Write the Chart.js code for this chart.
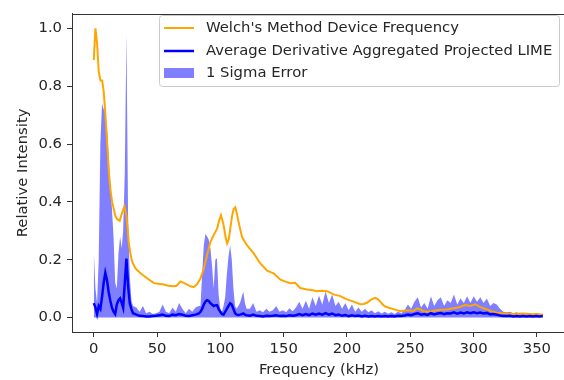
<!DOCTYPE html>
<html lang="en">
<head>
<meta charset="UTF-8">
<title>Welch vs LIME</title>
<script src="https://cdn.jsdelivr.net/npm/chart.js"></script>
<style>
  html, body { margin: 0; padding: 0; overflow: hidden; background: #fff; }
  #wrap { width: 572px; height: 380px; }
</style>
</head>
<body>
<div id="wrap"><canvas id="freqChart" width="572" height="380"></canvas></div>
<script>
// Welch's method spectrum (kHz, relative intensity)
var welchFreq = [0, 1.3, 2.6, 3.9, 5.3, 6.6, 7.9, 9.2, 10.6, 11.8, 13.2, 14.5, 15.8, 17.1, 18.5, 20.5, 22.4, 24.2, 25.8, 27.6,
  29, 30.3, 32.9, 36.9, 42.1, 47.4, 51, 55.2, 59, 63.1, 65.5, 68.4, 71, 73.7, 76.5, 78.9, 81.5, 84.2, 87, 89.5,
  92, 94.7, 97.4, 99, 100.5, 102.6, 104, 105.3, 106.6, 107.9, 109.2, 110.5, 111.8, 113, 114.4, 117.1, 121, 126.3, 131.6, 136.9,
  142, 147.4, 151, 155.2, 159, 163.1, 168.4, 172, 176.3, 180, 184.2, 189.4, 194.7, 200, 205.2, 210.5, 213, 215.8, 219, 222.3,
  224.5, 226.3, 228, 230.2, 233, 236.8, 242, 247.4, 252.6, 255.5, 257.9, 260.5, 263.1, 267, 271, 275, 278.9, 283, 286.8, 290,
  293.4, 297.3, 301.3, 305.2, 308, 310.5, 314, 318.4, 322, 326.3, 330, 334.2, 338, 342, 346, 350, 355];
var welchVals = [0.89, 1.0, 0.95, 0.85, 0.82, 0.82, 0.78, 0.70, 0.60, 0.51, 0.44, 0.40, 0.375, 0.35, 0.34, 0.335, 0.363, 0.384, 0.353, 0.26,
  0.22, 0.193, 0.17, 0.153, 0.136, 0.119, 0.117, 0.114, 0.11, 0.108, 0.11, 0.125, 0.12, 0.114, 0.108, 0.105, 0.115, 0.134, 0.17, 0.216,
  0.26, 0.285, 0.307, 0.335, 0.354, 0.318, 0.28, 0.256, 0.27, 0.31, 0.35, 0.375, 0.381, 0.36, 0.33, 0.278, 0.25, 0.222, 0.187, 0.162,
  0.153, 0.131, 0.125, 0.119, 0.12, 0.102, 0.097, 0.095, 0.091, 0.093, 0.091, 0.08, 0.074, 0.063, 0.055, 0.046, 0.047, 0.051, 0.062, 0.068,
  0.063, 0.055, 0.046, 0.038, 0.034, 0.029, 0.022, 0.025, 0.023, 0.032, 0.028, 0.022, 0.02, 0.022, 0.025, 0.027, 0.028, 0.031, 0.034, 0.038,
  0.043, 0.04, 0.046, 0.036, 0.032, 0.028, 0.022, 0.017, 0.015, 0.014, 0.012, 0.012, 0.014, 0.013, 0.011, 0.012, 0.01];

// Aggregated LIME: mean and mean + 1 sigma
var limeFreq = [0, 1.3, 2.6, 3.9, 5.2, 6.5, 7.8, 9.1, 10.4, 11.7, 13, 14.3, 15.6, 16.9, 18.2, 19.5, 20.8, 22.1, 23.2, 24.5,
  25.8, 27.1, 28.4, 29.7, 31,
  33.6, 36.2, 38.8, 41.4, 44, 46.6, 49.2, 51.8, 54.4, 57, 59.6, 62.2, 64.8, 67.4, 70, 72.6, 75.2, 77.8, 80.4, 83,
  84.3, 85.6, 86.9, 88.2, 89.5, 90.8, 92.1, 93.4, 94.7, 96, 97.3, 98.6, 99.9, 101.2, 102.5, 103.8, 105.1, 106.4, 107.7, 109,
  110.3, 111.6, 112.9, 114.2, 115.5, 116.8, 118.1, 119.4, 120.7,
  123.3, 125.9, 128.5, 131.1, 133.7, 136.3, 138.9, 141.5, 144.1, 146.7, 149.3, 151.9, 154.5, 157.1, 159.7, 162.3, 164.9, 167.5, 170.1, 172.7,
  175.3, 177.9, 180.5, 183.1, 185.7, 188.3, 190.9, 193.5, 196.1, 198.7, 201.3, 203.9, 206.5, 209.1, 211.7, 214.3, 216.9, 219.5, 222.1, 224.7,
  227.3, 229.9, 232.5, 235.1, 237.7, 240.3, 242.9, 245.5, 248.1, 250.7, 253.3, 255.9, 258.5, 261.1, 263.7, 266.3, 268.9, 271.5, 274.1, 276.7,
  279.3, 281.9, 284.5, 287.1, 289.7, 292.3, 294.9, 297.5, 300.1, 302.7, 305.3, 307.9, 310.5, 313.1, 315.7, 318.3, 320.9, 323.5, 326.1, 328.7,
  331.3, 333.9, 336.5, 339.1, 341.7, 344.3, 346.9, 349.5, 352.1, 354.7];
var limeMean = [0.05, 0.035, 0.012, 0.04, 0.03, 0.07, 0.12, 0.155, 0.13, 0.09, 0.06, 0.035, 0.02, 0.012, 0.045, 0.06, 0.066, 0.05, 0.034, 0.12,
  0.204, 0.11, 0.05, 0.03, 0.015,
  0.01, 0.006, 0.005, 0.004, 0.004, 0.005, 0.006, 0.008, 0.01, 0.006, 0.005, 0.01, 0.008, 0.012, 0.01, 0.006, 0.005, 0.008, 0.01, 0.014,
  0.02, 0.03, 0.045, 0.055, 0.06, 0.057, 0.05, 0.045, 0.04, 0.042, 0.043, 0.03, 0.02, 0.012, 0.01, 0.02, 0.03, 0.04, 0.049, 0.045,
  0.03, 0.015, 0.01, 0.009, 0.01, 0.012, 0.014, 0.01, 0.008,
  0.006, 0.01, 0.006, 0.005, 0.004, 0.006, 0.005, 0.006, 0.008, 0.005, 0.006, 0.005, 0.008, 0.006, 0.008, 0.012, 0.008, 0.012, 0.008, 0.014,
  0.01, 0.014, 0.01, 0.015, 0.01, 0.014, 0.008, 0.01, 0.006, 0.009, 0.005, 0.008, 0.005, 0.007, 0.004, 0.006, 0.004, 0.005, 0.004, 0.005,
  0.004, 0.005, 0.004, 0.005, 0.004, 0.006, 0.005, 0.007, 0.01, 0.008, 0.012, 0.015, 0.01, 0.012, 0.009, 0.015, 0.011, 0.014, 0.016, 0.012,
  0.015, 0.014, 0.018, 0.013, 0.017, 0.014, 0.018, 0.015, 0.018, 0.015, 0.017, 0.014, 0.016, 0.011, 0.012, 0.01, 0.007, 0.005, 0.005, 0.006,
  0.004, 0.005, 0.004, 0.005, 0.004, 0.005, 0.004, 0.005, 0.004, 0.005];
var limeUpper = [0.23, 0.1, 0.05, 0.2, 0.6, 0.74, 0.72, 0.71, 0.66, 0.56, 0.46, 0.38, 0.28, 0.12, 0.1, 0.22, 0.28, 0.24, 0.3, 0.5,
  0.98, 0.35, 0.15, 0.06, 0.04,
  0.035, 0.02, 0.04, 0.015, 0.02, 0.012, 0.015, 0.02, 0.045, 0.02, 0.015, 0.035, 0.02, 0.05, 0.03, 0.015, 0.03, 0.02, 0.035, 0.04,
  0.04, 0.15, 0.25, 0.29, 0.28, 0.27, 0.24, 0.18, 0.1, 0.2, 0.205, 0.08, 0.03, 0.02, 0.04, 0.07, 0.15, 0.21, 0.25, 0.2,
  0.1, 0.04, 0.03, 0.04, 0.05, 0.07, 0.09, 0.05, 0.03,
  0.03, 0.05, 0.02, 0.025, 0.018, 0.03, 0.02, 0.025, 0.04, 0.02, 0.025, 0.018, 0.032, 0.022, 0.035, 0.055, 0.03, 0.058, 0.03, 0.07,
  0.04, 0.075, 0.045, 0.09, 0.05, 0.08, 0.04, 0.055, 0.03, 0.05, 0.025, 0.045, 0.02, 0.035, 0.02, 0.03, 0.018, 0.025, 0.015, 0.022,
  0.014, 0.02, 0.013, 0.018, 0.012, 0.02, 0.015, 0.025, 0.045, 0.03, 0.055, 0.07, 0.035, 0.05, 0.03, 0.074, 0.04, 0.06, 0.07, 0.04,
  0.06, 0.05, 0.08, 0.045, 0.066, 0.05, 0.074, 0.05, 0.074, 0.055, 0.07, 0.05, 0.066, 0.04, 0.05, 0.045, 0.03, 0.02, 0.018, 0.02,
  0.015, 0.018, 0.014, 0.016, 0.012, 0.015, 0.012, 0.014, 0.012, 0.012];

var xTicks = [0, 50, 100, 150, 200, 250, 300, 350];
var yTicks = [0.0, 0.2, 0.4, 0.6, 0.8, 1.0];

var seriesNames = ["Welch's Method Device Frequency", 'Average Derivative Aggregated Projected LIME', '1 Sigma Error'];

function pairs(xs, ys) {
  return xs.map(function (x, i) { return { x: x, y: ys[i] }; });
}

Chart.defaults.font.family = '"DejaVu Sans", sans-serif';
Chart.defaults.font.size = 14.8;
Chart.defaults.color = '#262626';

// top/right spines like a matplotlib axes box
var framePlugin = {
  id: 'frame',
  afterDraw: function (chart) {
    var a = chart.chartArea, ctx = chart.ctx;
    ctx.save();
    ctx.strokeStyle = '#333';
    ctx.lineWidth = 1;
    ctx.strokeRect(Math.round(a.left) + 0.5, Math.round(a.top) + 0.5,
      Math.round(a.right - a.left), Math.round(a.bottom - a.top));
    ctx.restore();
  }
};

// legend box in the upper right corner
var legendPlugin = {
  id: 'boxLegend',
  afterDraw: function (chart) {
    var ctx = chart.ctx;
    var bx = 159.5, by = 15.5, bw = 400, bh = 71;
    ctx.save();
    ctx.beginPath();
    ctx.roundRect(bx, by, bw, bh, 3);
    ctx.fillStyle = 'rgba(255,255,255,0.8)';
    ctx.fill();
    ctx.strokeStyle = '#cccccc';
    ctx.lineWidth = 1;
    ctx.stroke();
    var rows = [28, 51, 73];
    chart.data.datasets.forEach(function (ds, i) {
      var y = rows[i];
      if (ds.fill) {
        ctx.fillStyle = ds.backgroundColor;
        ctx.fillRect(164, y - 5, 30, 10);
      } else {
        ctx.beginPath();
        ctx.moveTo(164, y);
        ctx.lineTo(194, y);
        ctx.strokeStyle = ds.borderColor;
        ctx.lineWidth = ds.borderWidth;
        ctx.stroke();
      }
      ctx.fillStyle = '#262626';
      ctx.font = '14.8px "DejaVu Sans"';
      ctx.textBaseline = 'middle';
      ctx.fillText(ds.label, 206, y);
    });
    ctx.restore();
  }
};

var ctx = document.getElementById('freqChart').getContext('2d');
var myChart = new Chart(ctx, {
  type: 'line',
  data: {
    datasets: [
      {
        label: seriesNames[0],
        data: pairs(welchFreq, welchVals),
        borderColor: '#ffa500',
        borderWidth: 2,
        pointRadius: 0,
        fill: false,
        order: 2
      },
      {
        label: seriesNames[1],
        data: pairs(limeFreq, limeMean),
        borderColor: '#0000ff',
        borderWidth: 2.5,
        pointRadius: 0,
        fill: false,
        order: 1
      },
      {
        label: seriesNames[2],
        data: pairs(limeFreq, limeUpper),
        borderWidth: 0,
        borderColor: 'rgba(0,0,255,0)',
        backgroundColor: 'rgba(0,0,255,0.5)',
        pointRadius: 0,
        fill: 'origin',
        order: 3
      }
    ]
  },
  options: {
    responsive: false,
    animation: false,
    layout: { padding: { left: 0, top: 7.5, right: 6, bottom: 0 } },
    plugins: { legend: { display: false }, tooltip: { enabled: false } },
    scales: {
      x: {
        type: 'linear',
        min: -17.2,
        max: 373,
        afterFit: function (scale) { scale.height = 48; },
        afterBuildTicks: function (scale) { scale.ticks = xTicks.map(function (v) { return { value: v }; }); },
        ticks: { padding: 3, callback: function (v) { return String(v); } },
        grid: { drawOnChartArea: false, drawTicks: true, tickLength: 5, tickColor: '#333' },
        border: { display: true, color: '#333' },
        title: { display: true, text: 'Frequency (kHz)', padding: { top: 0, bottom: 1 } }
      },
      y: {
        min: -0.05,
        max: 1.05,
        afterFit: function (scale) { scale.width = 72; },
        afterBuildTicks: function (scale) { scale.ticks = yTicks.map(function (v) { return { value: v }; }); },
        ticks: { padding: 5, callback: function (v) { return v.toFixed(1); } },
        grid: { drawOnChartArea: false, drawTicks: true, tickLength: 5, tickColor: '#333' },
        border: { display: true, color: '#333' },
        title: { display: true, text: 'Relative Intensity', padding: { top: 14, bottom: 0 } }
      }
    }
  },
  plugins: [framePlugin, legendPlugin]
});
</script>
</body>
</html>
